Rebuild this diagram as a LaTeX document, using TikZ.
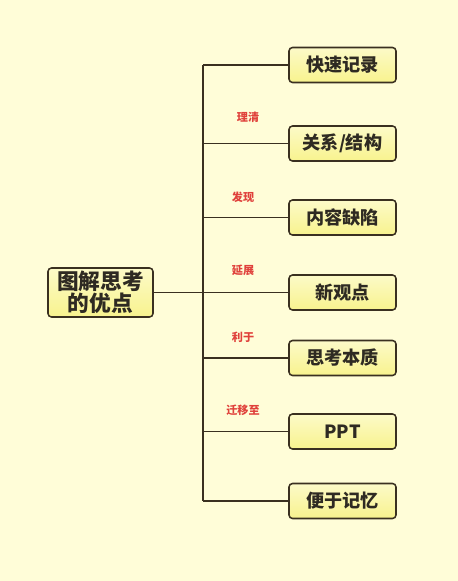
\documentclass[tikz,border=0pt]{standalone}
\usepackage{fontspec}
\newfontfamily\cjk{Noto Sans CJK SC}
\usetikzlibrary{positioning}
\definecolor{mBack}{HTML}{FFFDD8}
\definecolor{mBox}{HTML}{F8F38E}
\definecolor{mBoxTop}{HTML}{FCFAC8}
\definecolor{mLine}{HTML}{3A3020}
\definecolor{mText}{HTML}{2E2A22}
\definecolor{mRed}{HTML}{E0413B}

\begin{document}
\begin{tikzpicture}[x=0.03cm, y=-0.03cm,
    leaf/.style={draw=mLine, line width=1.3pt, rounded corners=3pt, top color=mBoxTop, bottom color=mBox,
      minimum width=107*0.03cm, minimum height=35*0.03cm, inner sep=0pt, text=mText,
      font=\cjk\bfseries\fontsize{15.5}{17}\selectfont},
    rootbox/.style={leaf, minimum width=105*0.03cm, minimum height=49*0.03cm, align=center,
      font=\cjk\bfseries\fontsize{18.5}{20}\selectfont},
    tag/.style={text=mRed, font=\cjk\bfseries\fontsize{9.5}{10}\selectfont},
    link/.style={draw=mLine, line width=1.1pt}]
    \fill[mBack] (0,0) rectangle (458,581);
    \useasboundingbox (0,0) rectangle (458,581);
    % root and trunk
    \node[rootbox] (root) at (100.5,292.5) {图解思考\\[-1pt]的优点};
    \coordinate (top) at (203,65);
    \coordinate (bot) at (203,501);
    \draw[link] (top) -- (bot);
    \draw[link] (root) -- (root -| top);
    % leaves
    \node[leaf] (fast) at (342.5,65) {快速记录};
    \node[leaf] (rel) at (342.5,143.5) {关系/结构};
    \node[leaf] (gap) at (342.5,217.5) {内容缺陷};
    \node[leaf] (view) at (342.5,292.5) {新观点};
    \node[leaf] (core) at (342.5,358) {思考本质};
    \node[leaf] (ppt) at (342.5,431.5) {PPT};
    \node[leaf] (mem) at (342.5,501) {便于记忆};
    % branches
    \draw[link] (top) -- (fast);
    \draw[link] (rel -| top) -- (rel);
    \draw[link] (gap -| top) -- (gap);
    \draw[link] (view -| top) -- (view);
    \draw[link] (core -| top) -- (core);
    \draw[link] (ppt -| top) -- (ppt);
    \draw[link] (bot) -- (mem);
    % labels
    \node[tag] (t1) at (248,117) {理清};
    \node[tag] (t2) at (243,197) {发现};
    \node[tag] (t3) at (243,270) {延展};
    \node[tag] (t4) at (243,337) {利于};
    \node[tag] (t5) at (243,410) {迁移至};
  \end{tikzpicture}
\end{document}
